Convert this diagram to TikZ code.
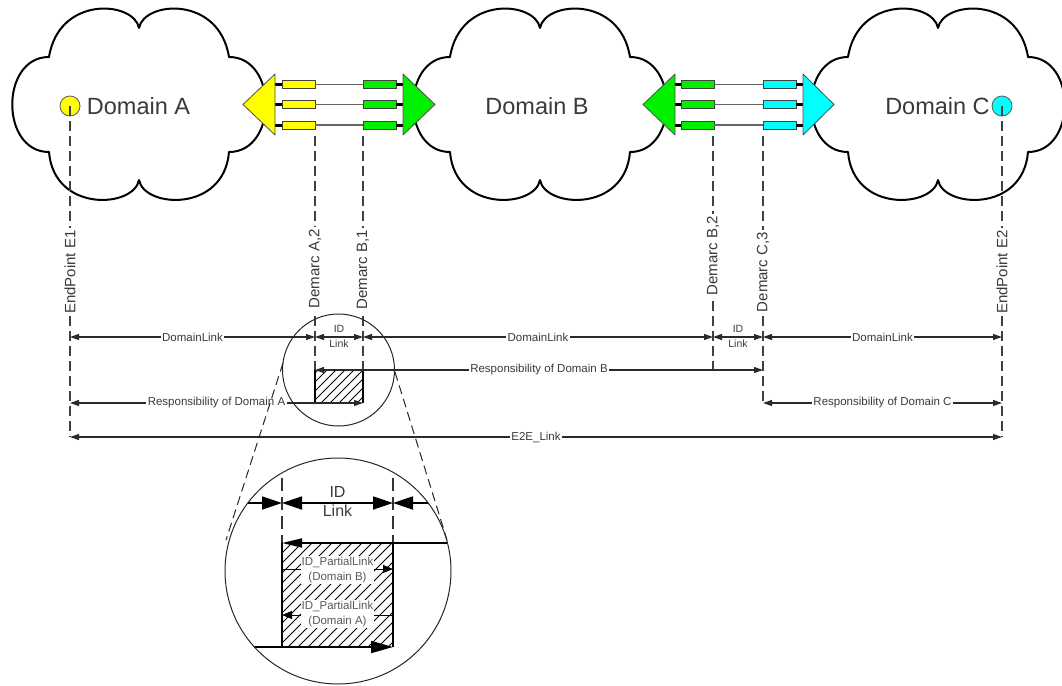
\documentclass[tikz,border=0pt]{standalone}
\usepackage{fontspec}
\setmainfont{Liberation Sans}
\usetikzlibrary{arrows.meta,calc}

\definecolor{portyellow}{HTML}{FFFF00}
\definecolor{portgreen}{HTML}{00F000}
\definecolor{portcyan}{HTML}{00FFFF}
\definecolor{inktext}{HTML}{3A3A3A}
\definecolor{inkline}{HTML}{2A2A2A}

\tikzset{
  cloudpic/.pic={
    \draw[line width=2pt, fill=white, line join=round]
      (0,-75) .. controls (-5,-102) and (-80,-108) .. (-90,-46)
      .. controls (-139,-46) and (-139,49) .. (-90,49)
      .. controls (-85,110) and (-5,105) .. (0,77)
      .. controls (5,105) and (85,110) .. (90,49)
      .. controls (139,49) and (139,-46) .. (90,-46)
      .. controls (80,-108) and (5,-102) .. cycle;
  },
  porttri/.style={draw=black!70, line width=0.8pt, line join=round},
  portbox/.style={draw=black!75, line width=0.8pt, minimum width=33pt,
    minimum height=8pt, inner sep=0pt},
  linkwire/.style={draw=black!60, line width=1.4pt},
  stubwire/.style={draw=black, line width=3pt},
  endpt/.style={circle, draw=black!65, line width=0.8pt, minimum size=20pt, inner sep=0pt},
  domlabel/.style={font=\fontsize{23.5}{26}\selectfont, text=inktext, inner sep=0pt},
  guideline/.style={draw=black!75, line width=1.2pt, dash pattern=on 10pt off 5pt},
  vlabel/.style={rotate=90, fill=white, inner sep=2pt, text=inktext,
    font=\fontsize{15}{17}\selectfont},
  dimline/.style={draw=inkline, line width=1.1pt,
    arrows={Triangle[length=9pt,width=6pt]-Triangle[length=9pt,width=6pt]}},
  dimlabel/.style={fill=white, inner sep=1.5pt, text=inktext,
    font=\fontsize{11.5}{13}\selectfont},
  idlabel/.style={inner sep=0pt, align=center, text=inktext,
    font=\fontsize{10.5}{15}\selectfont},
  hatchline/.style={draw=black, line width=0.9pt},
  lensline/.style={draw=black!85, line width=1pt},
  lensdash/.style={draw=black!85, line width=1pt, dash pattern=on 9pt off 5pt},
  insetguide/.style={draw=black!80, line width=1.3pt, dash pattern=on 13pt off 6pt},
  insetlabel/.style={fill=white, inner sep=1pt, align=center, text=black!65,
    font=\fontsize{11.5}{15}\selectfont},
}

\begin{document}
\begin{tikzpicture}[x=1pt,y=-1pt]
\useasboundingbox (0,0) rectangle (1062,685);

% ---------- the three domains ----------
\pic at (139,103) {cloudpic};
\pic at (540,103) {cloudpic};
\pic at (938,103) {cloudpic};

% ---------- inter-domain links A-B and B-C ----------
\foreach \y [count=\i] in {84.5,104.75,125} {
  \node[portbox, fill=portyellow] (pa\i) at (298.5,\y) {};
  \node[portbox, fill=portgreen]  (pb\i) at (379.5,\y) {};
  \draw[linkwire] (pa\i.east) -- (pb\i.west);
  \draw[stubwire] (275,\y) -- (pa\i.west);
  \draw[stubwire] (pb\i.east) -- (403,\y);
  \node[portbox, fill=portgreen] (qb\i) at (697.5,\y) {};
  \node[portbox, fill=portcyan]  (qc\i) at (779.5,\y) {};
  \draw[linkwire] (qb\i.east) -- (qc\i.west);
  \draw[stubwire] (675,\y) -- (qb\i.west);
  \draw[stubwire] (qc\i.east) -- (803,\y);
}
\path[porttri, fill=portyellow] (243,104.5) -- (275,74) -- (275,135) -- cycle;
\path[porttri, fill=portgreen]  (435,104.5) -- (403,74) -- (403,135) -- cycle;
\path[porttri, fill=portgreen]  (643,104.5) -- (675,74) -- (675,135) -- cycle;
\path[porttri, fill=portcyan]   (834,104.5) -- (803,74) -- (803,135) -- cycle;

% ---------- end points and domain names ----------
\node[endpt, fill=portyellow] (epA) at (70,106) {};
\node[endpt, fill=portcyan]   (epC) at (1002,106) {};
\node[domlabel] (dA) at (138.5,106) {Domain A};
\node[domlabel] (dB) at (537,106) {Domain B};
\node[domlabel] (dC) at (937.5,106) {Domain C};

% ---------- reference positions ----------
\coordinate (gA2) at (315,136);
\coordinate (gB1) at (363,136);
\coordinate (gB2) at (713,136);
\coordinate (gC3) at (763,136);
\coordinate (r1) at (0,337);
\coordinate (r2) at (0,370);
\coordinate (r3) at (0,403);
\coordinate (r4) at (0,437);

% ---------- vertical guides ----------
\draw[guideline] (epA.center) -- (epA |- r4);
\draw[guideline] (epC.center) -- (epC |- r4);
\draw[guideline] (gA2) -- (gA2 |- r3);
\draw[guideline] (gB1) -- (gB1 |- r3);
\draw[guideline] (gB2) -- (gB2 |- r2);
\draw[guideline] (gC3) -- (gC3 |- r3);

\node[vlabel] (lE1) at (70,272)   {EndPoint E1};
\node[vlabel] (lA2) at (315,269)  {Demarc A,2};
\node[vlabel] (lB1) at (363,270)  {Demarc B,1};
\node[vlabel] (lB2) at (713,256)  {Demarc B,2};
\node[vlabel] (lC3) at (763,272)  {Demarc C,3};
\node[vlabel] (lE2) at (1002,272) {EndPoint E2};

% ---------- hatched interdomain region ----------
\begin{scope}
  \clip (gA2 |- r2) rectangle (gB1 |- r3);
  \foreach \k in {0,...,10} \draw[hatchline] ({276+\k*9},403) -- ++(45,-45);
\end{scope}
\draw[line width=1.1pt] (gA2 |- r2) -- (gA2 |- r3);
\draw[line width=1.1pt] (gB1 |- r2) -- (gB1 |- r3);

% ---------- dimension lines ----------
\draw[dimline] (epA |- r1) -- node[dimlabel] (dl1) {DomainLink} (gA2 |- r1);
\draw[dimline] (gA2 |- r1) -- (gB1 |- r1);
\draw[dimline] (gB1 |- r1) -- node[dimlabel] (dl2) {DomainLink} (gB2 |- r1);
\draw[dimline] (gB2 |- r1) -- (gC3 |- r1);
\draw[dimline] (gC3 |- r1) -- node[dimlabel] (dl3) {DomainLink} (epC |- r1);
\node[idlabel] (id1) at (339,336) {ID\\Link};
\node[idlabel] (id2) at (738,336) {ID\\Link};

\draw[dimline] (gA2 |- r2) -- node[dimlabel] (rb) {Responsibility of Domain B} (gC3 |- r2);
\draw[dimline] (epA |- r3) -- node[dimlabel] (ra) {Responsibility of Domain A} (gB1 |- r3);
\draw[dimline] (gC3 |- r3) -- node[dimlabel] (rc) {Responsibility of Domain C} (epC |- r3);
\draw[dimline] (epA |- r4) -- node[dimlabel] (e2e) {E2E\_Link} (epC |- r4);

% ---------- magnifier ----------
\coordinate (lensS) at (338.5,370);
\coordinate (lensL) at (338,571);
\draw[lensline] (lensS) circle (56);
\coordinate (tl1) at (283,363);
\coordinate (tl2) at (226,540);
\coordinate (tr1) at (395,372);
\coordinate (tr2) at (447,540);
\draw[lensdash] (tl1) -- (tl2);
\draw[lensdash] (tr1) -- (tr2);

% ---------- enlarged view ----------
\begin{scope}
  \clip (lensL) circle (113);
  \draw[insetguide] (282,440) -- (282,543);
  \draw[insetguide] (393,440) -- (393,543);
  \draw[line width=1.8pt, -{Triangle[length=20pt,width=13pt]}] (200,503) -- (282,503);
  \draw[line width=1.8pt, {Triangle[length=20pt,width=13pt]}-{Triangle[length=20pt,width=13pt]}] (282,503) -- (393,503);
  \draw[line width=1.8pt, -{Triangle[length=20pt,width=13pt]}] (480,503) -- (393,503);
  \foreach \k in {0,...,22} \draw[hatchline] ({178+\k*10},647) -- ++(104,-104);
  \path[fill=white] (200,543) rectangle (282,647);
  \path[fill=white] (393,543) rectangle (480,647);
  \draw[line width=1.8pt, -{Triangle[length=20pt,width=9pt]}] (480,543) -- (282,543);
  \draw[line width=1.8pt, -{Triangle[length=22pt,width=12pt]}] (200,647) -- (393,647);
\end{scope}
\draw[line width=1.5pt] (282,543) -- (282,647);
\draw[line width=1.5pt] (393,543) -- (393,647);
\draw[line width=1pt, -{Triangle[length=10pt,width=8pt]}] (282,569) -- (393,569);
\draw[line width=1pt, -{Triangle[length=10pt,width=8pt]}] (393,615) -- (282,615);
\node[insetlabel] (plB) at (337.5,570) {ID\_PartialLink\\(Domain B)};
\node[insetlabel] (plA) at (337.5,614) {ID\_PartialLink\\(Domain A)};
\node[inner sep=0pt, align=center, text=inktext, font=\fontsize{16}{19}\selectfont]
  (idbig) at (337.5,501.5) {ID\\Link};
\draw[lensline] (lensL) circle (113);
\end{tikzpicture}
\end{document}
